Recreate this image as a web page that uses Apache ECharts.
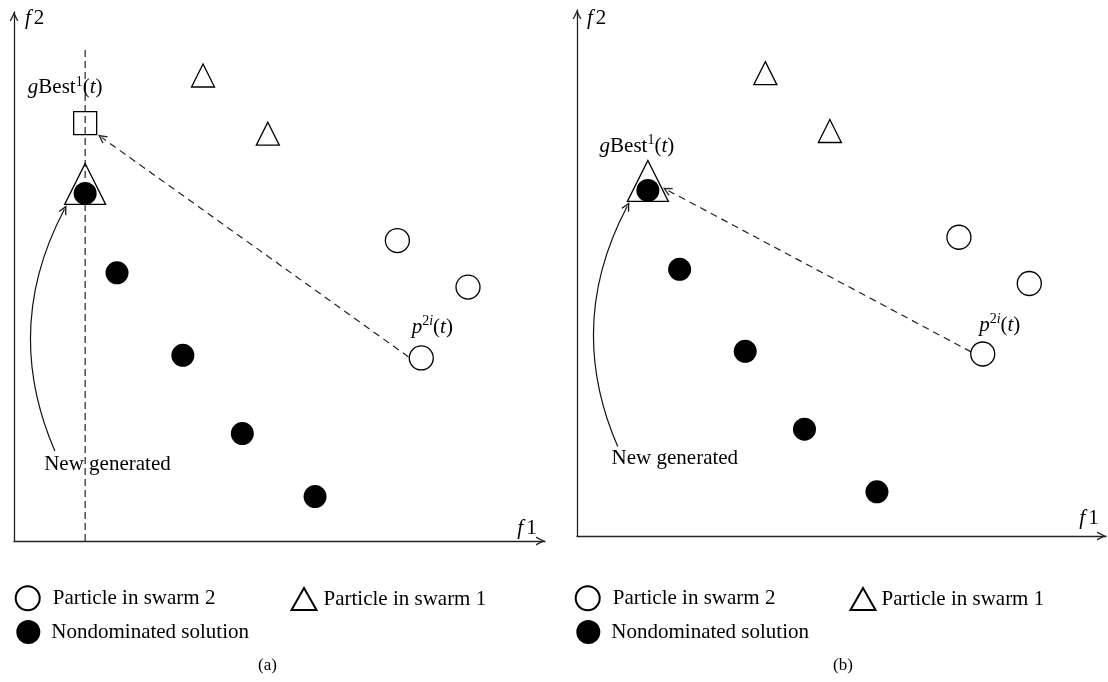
<!DOCTYPE html>
<html><head><meta charset="utf-8">
<script src="https://cdn.jsdelivr.net/npm/echarts@6/dist/echarts.min.js"></script>
<style>html,body{margin:0;padding:0;background:#fff}#c{width:1108px;height:682px}</style>
</head><body><div id="c"></div>
<script>
// ---- data (objective space units 0..100 on both axes) ----
const panelTitles = ['(a)', '(b)'];
const legendNames = ['Particle in swarm 2', 'Particle in swarm 1', 'Nondominated solution'];
const swarm1 = [[35.6, 88.0], [47.8, 77.0]];
const swarm2 = [[72.2, 56.8], [85.5, 48.0], [76.7, 34.6]];
const nondominated = [[13.4, 65.7], [19.4, 50.7], [31.8, 35.1], [43.0, 20.3], [56.7, 8.4]];
const newParticle = [[13.4, 67.5]];
const gBestA = [[13.4, 79.0]];
const gBestLineA = [[13.4, 0], [13.4, 93.4]];
const moveArrow = [[[74.3, 34.8], [16.5, 76.3]], [[74.5, 35.0], [17.0, 65.8]]];
const newArrow = [[7.7, 17.0], [9.5, 62.7]];
const newLabelAt = [[17.6, 14.4], [18.5, 14.8]];
const p2iIndex = 2;

const F = 'Liberation Serif';
const INK = '#000';
const chevron = 'path://M0,10L5,0L10,10L8.4,10L5,3.2L1.6,10Z';
const rich = {
  r: {fontFamily: F, fontSize: 21, color: INK, lineHeight: 26},
  i: {fontFamily: F, fontSize: 21, fontStyle: 'italic', color: INK, lineHeight: 26},
  s: {fontFamily: F, fontSize: 14, color: INK, lineHeight: 16, verticalAlign: 'top'},
  si: {fontFamily: F, fontSize: 14, fontStyle: 'italic', color: INK, lineHeight: 16, verticalAlign: 'top'}
};
const nameRich = {
  r: {fontFamily: F, fontSize: 21, color: INK, lineHeight: 22, padding: [0, 0, 0, 3]},
  i: {fontFamily: F, fontSize: 21, fontStyle: 'italic', color: INK, lineHeight: 22}
};
const gBestText = '{i|g}{r|Best}{s|1}{r|(}{i|t}{r|)}';
const p2iText = '{i|p}{s|2}{si|i}{r|(}{i|t}{r|)}';

const grids = [
  {left: 14, top: 12, width: 531, height: 529},
  {left: 577, top: 10, width: 529, height: 526}
];
const xNameCfg = [{gap: -18, pad: 2}, {gap: -17, pad: 7}];
const yNameCfg = [{gap: -6, pad: 11}, {gap: -8, pad: 10}];

const axisLine = {
  show: true, onZero: false,
  symbol: ['none', chevron], symbolSize: [10, 9], symbolOffset: [0, -4.5],
  lineStyle: {color: '#222', width: 1.3}
};
const xAxis = [], yAxis = [];
grids.forEach((g, k) => {
  xAxis.push({type: 'value', gridIndex: k, min: 0, max: 100,
    axisLine, axisTick: {show: false}, axisLabel: {show: false}, splitLine: {show: false},
    name: '{i|f}{r|1}', nameLocation: 'end', nameGap: xNameCfg[k].gap,
    nameTextStyle: {rich: nameRich, align: 'center', verticalAlign: 'bottom', padding: [0, 0, xNameCfg[k].pad, 0]}});
  yAxis.push({type: 'value', gridIndex: k, min: 0, max: 100,
    axisLine, axisTick: {show: false}, axisLabel: {show: false}, splitLine: {show: false},
    name: '{i|f}{r|2}', nameLocation: 'end', nameGap: yNameCfg[k].gap,
    nameTextStyle: {rich: nameRich, align: 'left', verticalAlign: 'middle', padding: [0, 0, 0, yNameCfg[k].pad]}});
});

const hollow = {color: 'transparent', borderColor: '#000', borderWidth: 1.3, opacity: 1};
const series = [];
[0, 1].forEach(k => {
  const ax = {xAxisIndex: k, yAxisIndex: k, silent: true, animation: false, emphasis: {disabled: true}};
  if (k === 0) {
    series.push({...ax, type: 'line', data: gBestLineA, symbol: 'none', z: 1,
      lineStyle: {color: '#222', width: 1.2, type: [7, 4]}});
  }
  series.push({...ax, name: 'Particle in swarm 1', type: 'scatter', data: swarm1,
    symbol: 'triangle', symbolSize: 23, itemStyle: hollow});
  series.push({...ax, name: 'New particle', type: 'scatter', data: newParticle,
    symbol: 'triangle', symbolSize: 41, itemStyle: hollow,
    label: k === 1 ? {show: true, position: 'top', distance: 0, offset: [-11, 0], formatter: gBestText, rich} : {show: false}});
  series.push({...ax, name: 'Particle in swarm 2', type: 'scatter', symbol: 'circle', symbolSize: 24, itemStyle: hollow,
    data: swarm2.map((v, i) => i === p2iIndex
      ? {value: v, label: {show: true, position: 'top', distance: k === 0 ? 5 : 3, offset: [k === 0 ? 11 : 17, 0], formatter: p2iText, rich}}
      : {value: v})});
  series.push({...ax, name: 'Nondominated solution', type: 'scatter', data: nondominated,
    symbol: 'circle', symbolSize: 23, itemStyle: {color: '#000', opacity: 1}});
  if (k === 0) {
    series.push({...ax, name: 'gBest', type: 'scatter', data: gBestA, symbol: 'rect', symbolSize: 23, itemStyle: hollow,
      label: {show: true, position: 'top', distance: 10, offset: [-20, 0], formatter: gBestText, rich}});
  }
  series.push({...ax, type: 'lines', coordinateSystem: 'cartesian2d',
    data: [{coords: moveArrow[k]}], symbol: ['none', chevron], symbolSize: 9,
    lineStyle: {color: '#222', width: 1.2, type: [7, 5], opacity: 1}});
  series.push({...ax, type: 'lines', coordinateSystem: 'cartesian2d',
    data: [{coords: newArrow}], symbol: ['none', chevron], symbolSize: 9,
    lineStyle: {color: '#111', width: 1.2, curveness: 0.24, opacity: 1}});
  series.push({...ax, type: 'scatter', data: [newLabelAt[k]], symbolSize: 0, itemStyle: {opacity: 1},
    label: {show: true, position: 'inside', formatter: 'New generated', fontFamily: F, fontSize: 21, color: INK}});
});

const legendText = pad => ({fontFamily: F, fontSize: 21, color: INK, padding: [0, 0, 0, pad]});
const legendRows = [
  {name: legendNames[0], dx: 14.7, top: 585.3, w: 24, h: 24, pad: 8},
  {name: legendNames[1], dx: 290.5, top: 587, w: 25, h: 22, pad: 2},
  {name: legendNames[2], dx: 16.3, top: 620, w: 24, h: 24, pad: 6}
];
const legend = [];
[0, 560].forEach((shift, k) => {
  legendRows.forEach(r => {
    legend.push({data: [r.name], left: r.dx + shift - (k === 1 && r.name === legendNames[1] ? 1 : 0), top: r.top,
      padding: 0, itemWidth: r.w, itemHeight: r.h, selectedMode: false, symbolKeepAspect: false,
      itemStyle: {opacity: 1},
      textStyle: legendText(k === 1 && r.name === legendNames[1] ? 1 : r.pad)});
  });
});

const title = panelTitles.map((t, k) => ({text: t, left: k === 0 ? 258 : 833, top: 657, padding: 0,
  textStyle: {fontFamily: F, fontSize: 17, fontWeight: 'normal', color: INK}}));

const chart = echarts.init(document.getElementById('c'));
chart.setOption({animation: false, backgroundColor: '#fff', title, legend, grid: grids, xAxis, yAxis, series});
</script></body></html>
